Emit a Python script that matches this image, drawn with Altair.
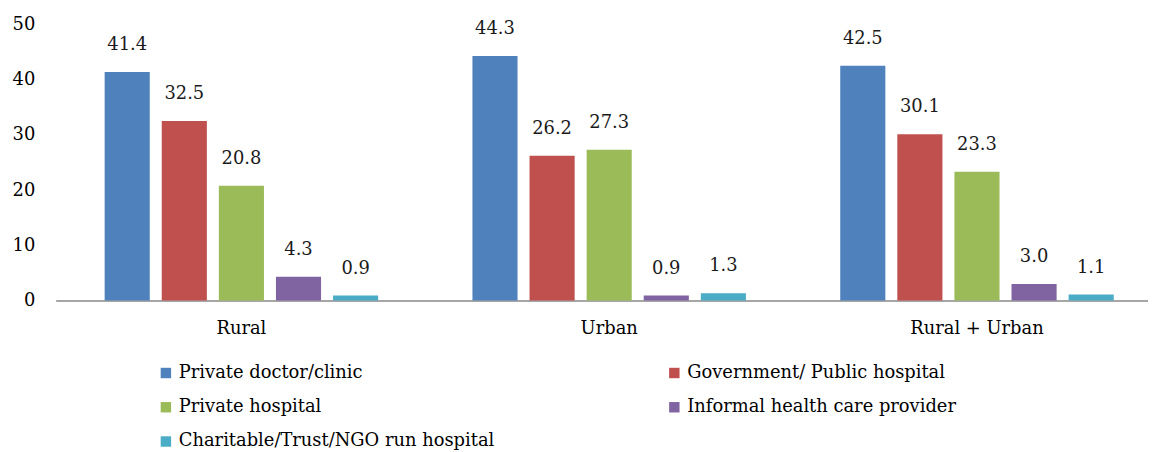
import altair as alt
import pandas as pd

groups = ["Rural", "Urban", "Rural + Urban"]
providers = [
    "Private doctor/clinic",
    "Government/ Public hospital",
    "Private hospital",
    "Informal health care provider",
    "Charitable/Trust/NGO run hospital",
]
colors = ["#4F81BD", "#C0504D", "#9BBB59", "#8064A2", "#4BACC6"]
rural = [41.4, 32.5, 20.8, 4.3, 0.9]
urban = [44.3, 26.2, 27.3, 0.9, 1.3]
total = [42.5, 30.1, 23.3, 3.0, 1.1]

rows = []
for g, vals in zip(groups, [rural, urban, total]):
    for i, (p, v) in enumerate(zip(providers, vals)):
        rows.append({"group": g, "provider": p, "order": i, "value": v})
df = pd.DataFrame(rows)

# legend fills column by column (3 rows): reorder so rows read as in the reference
legend_order = [0, 2, 4, 1, 3]
leg_domain = [providers[i] for i in legend_order]
leg_range = [colors[i] for i in legend_order]

FONT = "DejaVu Serif"
FS = 18

x = alt.X("group:N", sort=groups, title=None,
          scale=alt.Scale(paddingInner=0.23, paddingOuter=0.1, align=0.6),
          axis=alt.Axis(labelAngle=0, labelFont=FONT, labelFontSize=FS, labelColor="#000000",
                        ticks=False, domainColor="#A6A6A6", domainWidth=2, labelPadding=19))
xo = alt.XOffset("provider:N", sort=providers,
                 scale=alt.Scale(paddingInner=0.21, paddingOuter=0.085))
y = alt.Y("value:Q", title=None,
          scale=alt.Scale(domain=[0, 50]),
          axis=alt.Axis(values=[0, 10, 20, 30, 40, 50], grid=False, domain=False, ticks=False,
                        labelFont=FONT, labelFontSize=FS, labelColor="#000000",
                        labelPadding=21, minExtent=48))
color = alt.Color("provider:N",
                  scale=alt.Scale(domain=leg_domain, range=leg_range),
                  legend=alt.Legend(title=None, orient="none", legendX=102, legendY=342,
                                    columns=2, columnPadding=172, rowPadding=16.5,
                                    symbolType="square", symbolSize=110, symbolStrokeWidth=0,
                                    labelFont=FONT, labelFontSize=FS, labelColor="#000000",
                                    labelLimit=500, padding=0))

bars = alt.Chart(df).mark_bar().encode(x=x, xOffset=xo, y=y, color=color)
labels = alt.Chart(df).mark_text(dy=-27, font=FONT, fontSize=FS, color="#1a1a1a").encode(
    x=alt.X("group:N", sort=groups), xOffset=xo, y="value:Q",
    text=alt.Text("value:Q", format=".1f"))

chart = alt.layer(bars, labels).properties(
    width=1100, height=278,
    padding={"left": 0, "top": 6, "right": 0, "bottom": 0},
).configure_view(stroke=None)

chart.save("out.html", embed_options={"renderer": "svg", "actions": False})
